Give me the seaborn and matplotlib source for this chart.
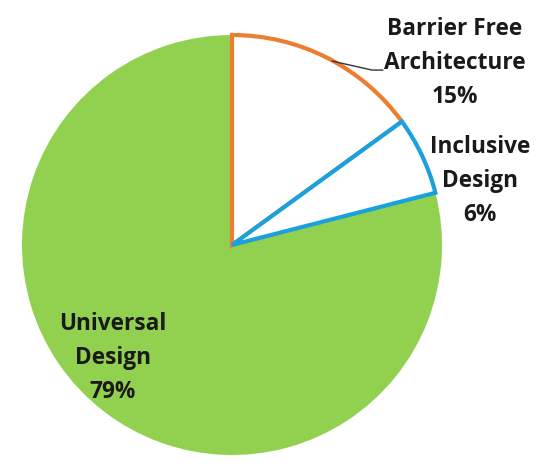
import matplotlib
matplotlib.use("Agg")
import matplotlib.pyplot as plt
import seaborn as sns

categories = ["Barrier Free\nArchitecture", "Inclusive\nDesign", "Universal\nDesign"]
values = [15, 6, 79]
face_colors = ["white", "white", "#92D050"]
edge_colors = ["#ED7D31", "#1AA0DA", "#92D050"]

sns.set_theme(style="white")
plt.rcParams['font.family'] = ['Open Sans', 'DejaVu Sans']

fig = plt.figure(figsize=(5.5, 4.77), dpi=100)
ax = fig.add_axes([(232 - 210) / 550, (477 - 456) / 477, 420 / 550, 420 / 477])

wedges, _ = ax.pie(values, startangle=90, counterclock=False, colors=face_colors,
                   wedgeprops=dict(linewidth=3))
for w, ec, z in zip(wedges, edge_colors, [2, 3, 1]):
    w.set_edgecolor(ec)
    w.set_zorder(z)
    w.set_clip_on(False)
wedges[2].set_linewidth(0)

ax.set_xlim(-1, 1)
ax.set_ylim(-1, 1)
ax.set_aspect('equal')
ax.axis('off')

label_pos = [(1.062, 0.871), (1.181, 0.31), (-0.567, -0.533)]
for cat, v, (x, y) in zip(categories, values, label_pos):
    ax.text(x, y, f"{cat}\n{v}%", ha='center', va='center', fontsize=16.3,
            fontweight='bold', color='#1a1a1a', linespacing=1.55, zorder=5)

ax.plot([0.476, 0.667, 0.719], [0.876, 0.833, 0.833], color='#333333', lw=1, zorder=4,
        clip_on=False)

fig.savefig("out.png", dpi=100)
